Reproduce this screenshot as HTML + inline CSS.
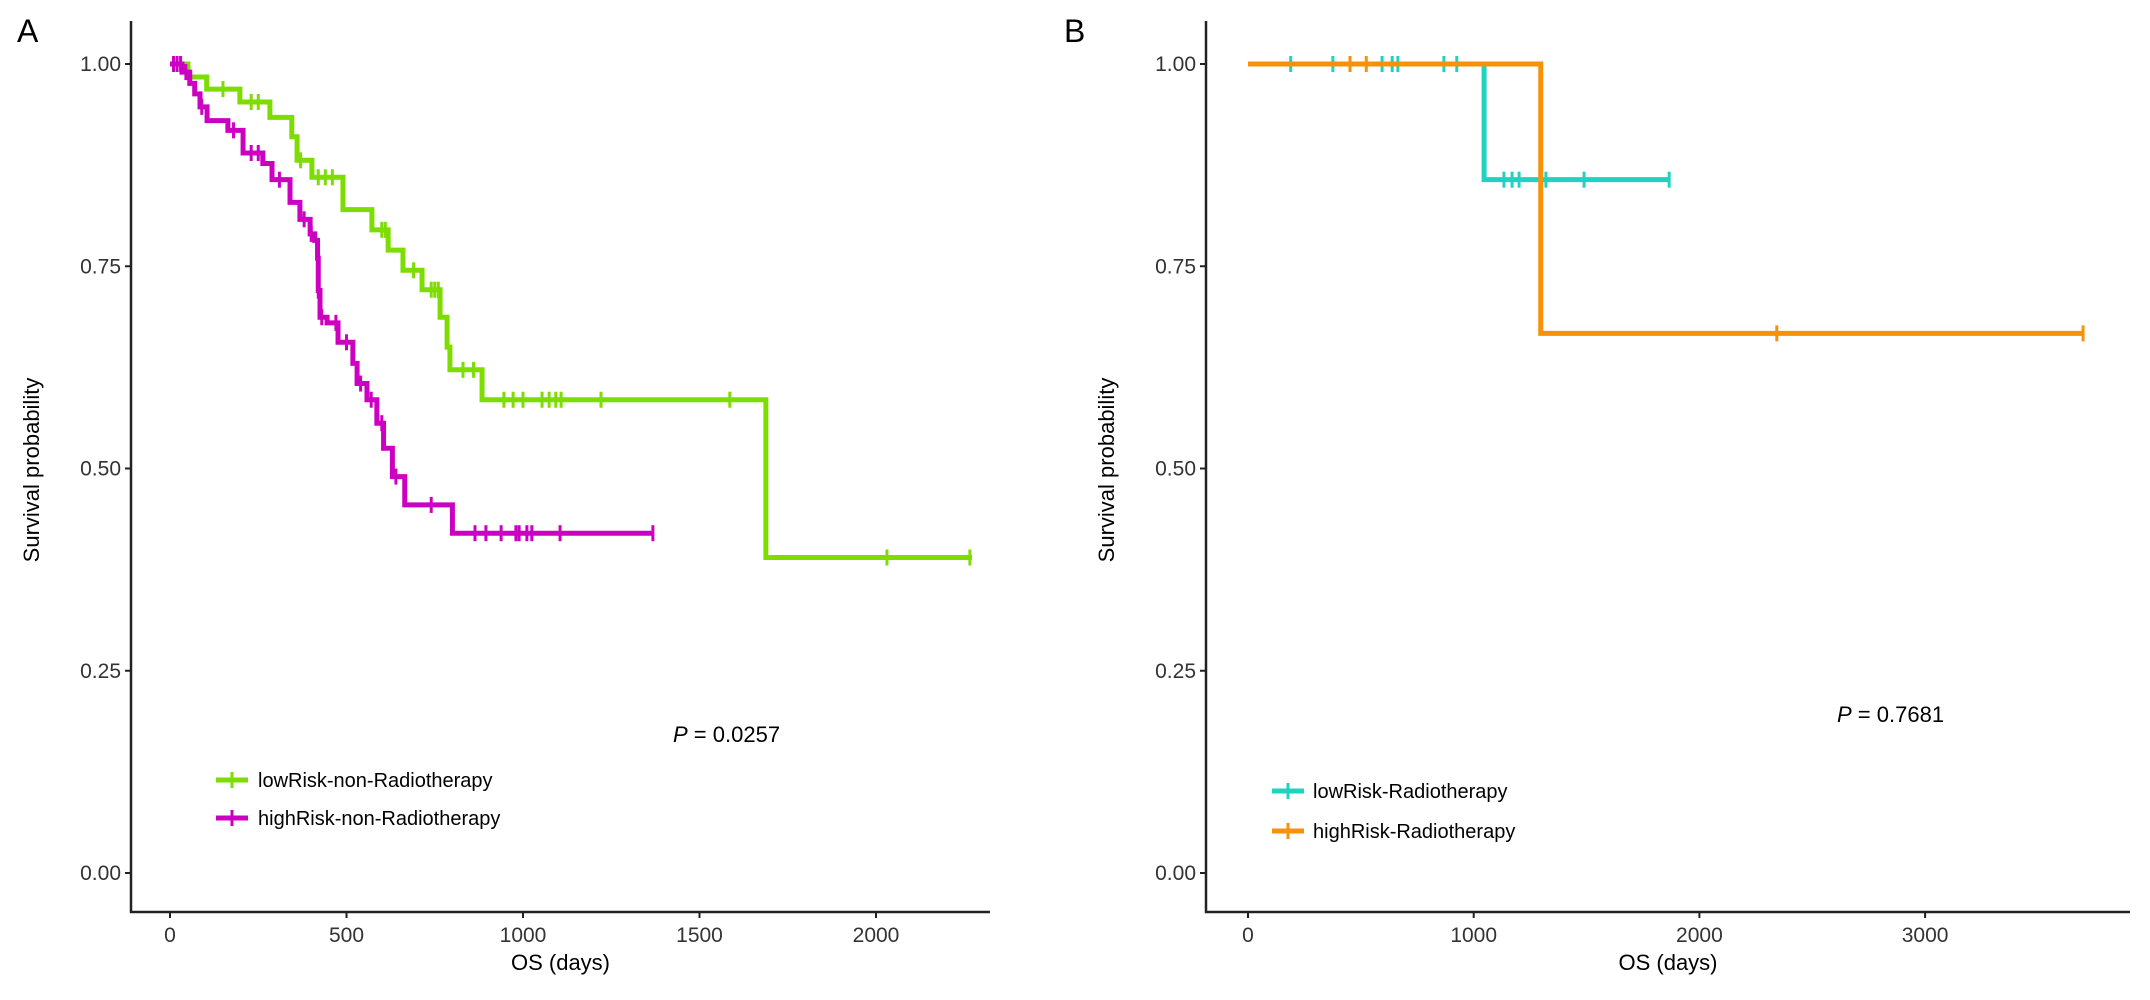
<!DOCTYPE html>
<html><head><meta charset="utf-8"><style>
html,body{margin:0;padding:0;background:#fff;}
svg{display:block;font-family:"Liberation Sans",sans-serif;}
</style></head><body>
<svg id="chart" width="2150" height="1000" viewBox="0 0 2150 1000">
<text x="17" y="42" font-size="32" fill="#000">A</text>
<text x="1064" y="42" font-size="32" fill="#000">B</text>
<g id="pa"></g>
<g id="pb"></g>
</svg>
<script>
// Panel A data
const aLowTimes=[51,104,198,283,345,360,402,490,572,618,660,714,765,785,793,884,1688];
const aLowSurv=[0.984,0.969,0.953,0.934,0.91,0.881,0.86,0.82,0.795,0.77,0.745,0.721,0.687,0.65,0.622,0.585,0.39];
const aLowEnd=2272;
const aLowCensor=[150,230,250,370,420,440,460,600,610,690,740,750,760,830,860,946,972,1000,1054,1074,1093,1108,1221,1586,2031,2266];
const aHighTimes=[34,56,70,85,105,164,207,263,289,340,368,397,410,418,420,425,445,476,518,530,558,586,605,630,665,800];
const aHighSurv=[0.99,0.976,0.963,0.947,0.93,0.918,0.89,0.877,0.857,0.829,0.808,0.79,0.782,0.76,0.72,0.687,0.68,0.656,0.63,0.605,0.585,0.556,0.525,0.49,0.455,0.42];
const aHighEnd=1368;
const aHighCensor=[10,20,30,45,90,180,230,250,310,380,400,420,430,470,500,540,570,600,640,740,864,895,938,980,989,1011,1025,1105,1368];
const aXTicks=[0,500,1000,1500,2000];
// Panel B data
const bLowTimes=[1046];
const bLowSurv=[0.857];
const bLowEnd=1866;
const bLowCensor=[189,376,594,639,664,868,925,1134,1170,1201,1320,1489,1866];
const bHighTimes=[1297];
const bHighSurv=[0.667];
const bHighEnd=3700;
const bHighCensor=[452,524,2343,3700];
const bXTicks=[0,1000,2000,3000];
const yTicks=[0,0.25,0.5,0.75,1];
const yTickLabels=["0.00","0.25","0.50","0.75","1.00"];

const NS="http://www.w3.org/2000/svg";
function mk(parent,tag,attrs){const e=document.createElementNS(NS,tag);for(const k in attrs)e.setAttribute(k,attrs[k]);parent.appendChild(e);return e;}
function yS(s){return 873-s*809;}

function panel(g,cfg){
  const xS=d=>cfg.x0+d*cfg.k;
  let ax=mk(g,'path',{d:`M${cfg.axX} 21 V${912} H${cfg.axEnd}`,fill:'none',stroke:'#222','stroke-width':2.5});
  
  
  yTicks.forEach((t,i)=>{
    const tk=mk(g,'line',{x1:cfg.axX-6,x2:cfg.axX,y1:yS(t),y2:yS(t),stroke:'#222','stroke-width':2});
    
    
    const tl=mk(g,'text',{x:cfg.axX-10,y:yS(t)+7,'text-anchor':'end','font-size':21,fill:'#333'});
    tl.textContent=yTickLabels[i];
    
    
  });
  cfg.xt.forEach(t=>{
    const tk=mk(g,'line',{x1:xS(t),x2:xS(t),y1:912,y2:918,stroke:'#222','stroke-width':2});
    
    
    const tl=mk(g,'text',{x:xS(t),y:942,'text-anchor':'middle','font-size':21,fill:'#333'});
    tl.textContent=String(t);
    
    
  });
  const xt=mk(g,'text',{x:(cfg.axX+cfg.axEnd)/2,y:970,'text-anchor':'middle','font-size':22,fill:'#000'});
  xt.textContent='OS (days)';
  
  
  const yt=mk(g,'text',{x:0,y:0,'text-anchor':'middle','font-size':22,fill:'#000',transform:`translate(${cfg.axX-92},470) rotate(-90)`});
  yt.textContent='Survival probability';
  
  
  cfg.series.forEach(s=>{
    let d=`M${xS(0)} ${yS(1)}`;
    s.t.forEach((t,i)=>{d+=` H${xS(t)} V${yS(s.s[i])}`;});
    d+=` H${xS(s.end)}`;
    const p=mk(g,'path',{d:d,fill:'none',stroke:s.c,'stroke-width':5,'stroke-linejoin':'miter'});
    
    
    s.cen.forEach(ct=>{
      let v=1;s.t.forEach((t,i)=>{if(t<=ct)v=s.s[i];});
      const m=mk(g,'line',{x1:xS(ct),x2:xS(ct),y1:yS(v)-8,y2:yS(v)+8,stroke:s.c,'stroke-width':3});
      
      
    });
  });
}
panel(document.getElementById('pa'),{x0:170,k:0.353,axX:131,axEnd:990,xt:aXTicks,series:[
  {name:'low-risk-non-radiotherapy',t:aLowTimes,s:aLowSurv,end:aLowEnd,cen:aLowCensor,c:'#7ddc00'},
  {name:'high-risk-non-radiotherapy',t:aHighTimes,s:aHighSurv,end:aHighEnd,cen:aHighCensor,c:'#cc00c0'}]});
panel(document.getElementById('pb'),{x0:1248,k:0.2257,axX:1206,axEnd:2130,xt:bXTicks,series:[
  {name:'low-risk-radiotherapy',t:bLowTimes,s:bLowSurv,end:bLowEnd,cen:bLowCensor,c:'#1fd3c1'},
  {name:'high-risk-radiotherapy',t:bHighTimes,s:bHighSurv,end:bHighEnd,cen:bHighCensor,c:'#f5920a'}]});
</script>
<svg width="2150" height="1000" style="position:absolute;left:0;top:0">
<text x="673" y="742" font-size="22" font-family="Liberation Sans, sans-serif"><tspan font-style="italic">P</tspan> = 0.0257</text>
<text x="1837" y="722" font-size="22" font-family="Liberation Sans, sans-serif"><tspan font-style="italic">P</tspan> = 0.7681</text>
<g font-family="Liberation Sans, sans-serif" font-size="20">
<g><line x1="216" x2="248" y1="780" y2="780" stroke="#7ddc00" stroke-width="5"/><line x1="232" x2="232" y1="772" y2="788" stroke="#7ddc00" stroke-width="3"/><text x="258" y="787">lowRisk-non-Radiotherapy</text></g>
<g><line x1="216" x2="248" y1="818" y2="818" stroke="#cc00c0" stroke-width="5"/><line x1="232" x2="232" y1="810" y2="826" stroke="#cc00c0" stroke-width="3"/><text x="258" y="825">highRisk-non-Radiotherapy</text></g>
</g>
<g font-family="Liberation Sans, sans-serif" font-size="20">
<g><line x1="1272" x2="1304" y1="791" y2="791" stroke="#1fd3c1" stroke-width="5"/><line x1="1288" x2="1288" y1="783" y2="799" stroke="#1fd3c1" stroke-width="3"/><text x="1313" y="798">lowRisk-Radiotherapy</text></g>
<g><line x1="1272" x2="1304" y1="831" y2="831" stroke="#f5920a" stroke-width="5"/><line x1="1288" x2="1288" y1="823" y2="839" stroke="#f5920a" stroke-width="3"/><text x="1313" y="838">highRisk-Radiotherapy</text></g>
</g>
</svg>
</body></html>
